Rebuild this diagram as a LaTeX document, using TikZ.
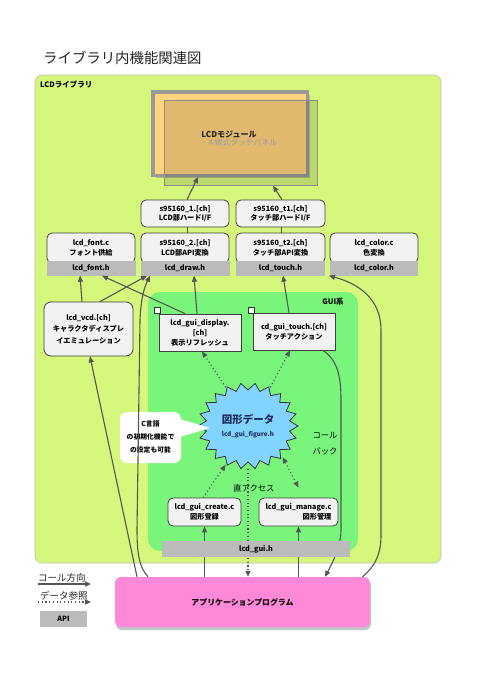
\documentclass[tikz,border=0pt]{standalone}
\usepackage{fontspec}
\setmainfont{Noto Sans CJK JP}
\usetikzlibrary{arrows.meta,shadows,shapes.geometric}
\definecolor{libgreen}{HTML}{D5F77C}
\definecolor{guigreen}{HTML}{78F57A}
\definecolor{boxfill}{HTML}{F2F2F2}
\definecolor{apigray}{HTML}{BBBBBB}
\definecolor{modorange}{HTML}{FFD27E}
\definecolor{figblue}{HTML}{80D4FF}
\definecolor{apppink}{HTML}{FF88D8}
\definecolor{linegray}{HTML}{555555}
\definecolor{navy}{HTML}{1C2B5A}
\begin{document}
\begin{tikzpicture}[x=1pt,y=-1pt,
  filebox/.style={draw=black!75, line width=0.8pt, fill=boxfill, rounded corners=5pt, align=center, inner sep=1pt, font=\bfseries\fontsize{7.2}{9.5}\selectfont},
  guibox/.style={draw=black!75, line width=0.8pt, fill=boxfill, align=center, inner sep=1pt, font=\bfseries\fontsize{7.2}{10}\selectfont},
  apibar/.style={fill=apigray, draw=none, align=center, inner sep=0pt, font=\bfseries\fontsize{7.2}{9}\selectfont},
  call/.style={draw=linegray, line width=1.1pt, -{Triangle[length=6pt,width=5pt]}},
  dataref/.style={draw=linegray, line width=1.1pt, dash pattern=on 1.1pt off 2.6pt, -{Triangle[length=6pt,width=5pt]}},
  plainline/.style={draw=linegray, line width=0.9pt},
  tinysq/.style={draw=black!80, fill=white, minimum size=6, inner sep=0pt, line width=0.7pt}
]
\useasboundingbox (0,0) rectangle (478,677);
\fill[white] (0,0) rectangle (478,677);

% title
\node[anchor=west, font=\fontsize{14.4}{16}\selectfont, text=black!85, inner sep=0pt] (title) at (43,58) {ライブラリ内機能関連図};

% LCD library area
\node[draw=black!25, line width=0.6pt, fill=libgreen, rounded corners=7pt, minimum width=406, minimum height=488] (lib) at (238,319) {};
\node[anchor=west, font=\bfseries\fontsize{7.5}{9}\selectfont, inner sep=0pt] (libl) at (40,84) {LCDライブラリ};

% LCD module
\node[draw=black!40, line width=3.5pt, fill=modorange, minimum width=154.5, minimum height=83.5,
      drop shadow={shadow xshift=3pt, shadow yshift=-3pt, opacity=0.45}] (lcd) at (230,133.5) {};
\node[draw=black!45, line width=0.5pt, fill=black, fill opacity=0.12, minimum width=153, minimum height=85.5] (lcdb) at (240.5,142.75) {};
\node[font=\bfseries\fontsize{8}{9}\selectfont, text=black!85, inner sep=0pt] (lcdt) at (229,134) {LCDモジュール};
\node[font=\fontsize{7.8}{9}\selectfont, text=black!38, inner sep=0pt] (tpt) at (242,143) {４線式タッチパネル};

% driver boxes
\node[filebox, minimum width=88, minimum height=27] (s1) at (185,213.5) {s95160\_1.[ch]\\LCD部ハードI/F};
\node[filebox, minimum width=89, minimum height=27] (t1) at (280.5,213.5) {s95160\_t1.[ch]\\タッチ部ハードI/F};
\node[filebox, minimum width=88, minimum height=30] (font) at (91,248) {lcd\_font.c\\フォント供給};
\node[filebox, minimum width=88, minimum height=30] (s2) at (185,248) {s95160\_2.[ch]\\LCD部API変換};
\node[filebox, minimum width=89, minimum height=30] (t2) at (280.5,248) {s95160\_t2.[ch]\\タッチ部API変換};
\node[filebox, minimum width=88, minimum height=30] (color) at (374,248) {lcd\_color.c\\色変換};
\node[apibar, minimum width=89, minimum height=15] (fonth) at (91,268) {lcd\_font.h};
\node[apibar, minimum width=89, minimum height=15] (drawh) at (185,268) {lcd\_draw.h};
\node[apibar, minimum width=89, minimum height=15] (touchh) at (280.5,268) {lcd\_touch.h};
\node[apibar, minimum width=88, minimum height=15] (colorh) at (374,268) {lcd\_color.h};

% GUI area
\node[fill=guigreen, rounded corners=12pt, minimum width=210, minimum height=259] (gui) at (253,421.5) {};
\node[font=\bfseries\fontsize{7.5}{9}\selectfont, inner sep=0pt] (guil) at (333,302) {GUI系};

\node[filebox, rounded corners=7pt, minimum width=89, minimum height=54, font=\bfseries\fontsize{7.2}{11.5}\selectfont] (vcd) at (88.5,329) {lcd\_vcd.[ch]\\キャラクタディスプレ\\イエミュレーション};
\node[guibox, minimum width=82, minimum height=37] (disp) at (200,332.5) {lcd\_gui\_display.\\{}[ch]\\表示リフレッシュ};
\node[guibox, minimum width=82, minimum height=37] (gtouch) at (294,331.5) {cd\_gui\_touch.[ch]\\タッチアクション};
\node[tinysq] (sq1) at (157,310) {};
\node[tinysq] (sq2) at (251,310) {};

% figure data starburst
\draw[draw=black!80, line width=0.8pt, fill=figblue] (298,426)
  \foreach \i in {0,...,21} { -- ({248+50*cos(\i*360/22)},{426+43*sin(\i*360/22)}) -- ({248+42*cos((\i+0.5)*360/22)},{426+36*sin((\i+0.5)*360/22)}) } -- cycle;
\node[ellipse, minimum width=100, minimum height=86, inner sep=0pt, align=center, text=navy] (fig) at (248,426)
  {{\bfseries\fontsize{10.5}{12}\selectfont 図形データ}\\[1pt]{\bfseries\fontsize{6.3}{8}\selectfont lcd\_gui\_figure.h}};

% callout
\node[fill=white, rounded corners=7pt, minimum width=61, minimum height=51, align=center, inner sep=0pt,
      font=\bfseries\fontsize{6.8}{13}\selectfont] (note) at (150.5,437.5) {C言語\\の初期化機能で\\の設定も可能};
\fill[white] ([xshift=-3,yshift=19]note.east) -- (210,428) -- ([xshift=-3,yshift=0]note.east) -- cycle;

\node[font=\fontsize{8.3}{10}\selectfont, inner sep=0pt] (cb1) at (325,435) {コール};
\node[font=\fontsize{8.3}{10}\selectfont, inner sep=0pt] (cb2) at (325,451) {バック};
\node[font=\fontsize{8.3}{10}\selectfont, inner sep=0pt] (direct) at (254,488) {直アクセス};

\node[filebox, minimum width=73, minimum height=28] (create) at (204.5,512) {lcd\_gui\_create.c\\図形登録};
\node[filebox, minimum width=79, minimum height=28, align=right] (manage) at (298.5,512) {lcd\_gui\_manage.c\\図形管理};

% application
\node[fill=apppink, rounded corners=6pt, minimum width=255, minimum height=50,
      drop shadow={shadow xshift=1pt, shadow yshift=-3pt, opacity=0.45},
      font=\bfseries\fontsize{7.9}{9}\selectfont] (app) at (242.5,602) {アプリケーションプログラム};

% connectors
\draw[call] ([xshift=2]s1.north) -- ([xshift=-32]lcd.south);
\draw[call] ([xshift=1.5]t1.north) -- ([xshift=32.5]lcdb.south);
\draw[plainline] ([xshift=2]s1.south) -- ([xshift=2]s2.north);
\draw[plainline] ([xshift=1]t1.south) -- ([xshift=1]t2.north);
\draw[call] ([xshift=-6.5]vcd.north) -- ([xshift=-11]fonth.south);
\draw[call] ([xshift=11.5]vcd.north) -- ([xshift=-38]drawh.south);
\draw[call] ([xshift=-15]disp.north) -- ([xshift=11]fonth.south);
\draw[call] ([xshift=-3]disp.north) -- ([xshift=9]drawh.south);
\draw[call] ([xshift=-5]gtouch.north) -- ([xshift=2.5]touchh.south);
\draw[call] ([xshift=-94.5]app.north) .. controls (140,568) and (137,556) .. (137,530) -- (140,320) .. controls (141,296) and (145,286) .. ([xshift=-35]drawh.south);
\draw[call] ([xshift=-105.5]app.north) -- ([xshift=1.5]vcd.south);
\draw[call] (app.north -| create.south) -- (create.south);
\draw[call] (app.north -| manage.south) -- (manage.south);
\draw[call] ([xshift=29]gtouch.south) .. controls (337,360) and (341,375) .. (341,400) -- (341,530) .. controls (341,546) and (333,562) .. ([xshift=82.5]app.north);
\draw[call] ([xshift=120]app.north) .. controls (375,566) and (381,555) .. (381,535) -- (381,330) .. controls (381,300) and (360,284) .. ([xshift=-45]colorh.south);
\draw[dataref] (fig.south) -- (fig.south |- app.north);
\draw[dataref] (fig.120) -- ([xshift=2]disp.south);
\draw[dataref] (fig.60) -- ([xshift=-4]gtouch.south);
\draw[dataref] ([xshift=-1.5]create.north) -- (fig.240);
\draw[dataref, {Triangle[length=6pt,width=5pt]}-{Triangle[length=6pt,width=5pt]}] (fig.318) -- ([yshift=10]manage.north);

% lcd_gui.h bar on top
\node[apibar, minimum width=188, minimum height=16] (guih) at (256,549) {lcd\_gui.h};

% legend
\node[anchor=west, font=\fontsize{9.5}{11}\selectfont, inner sep=0pt, text=black!85] (lg1) at (38,578) {コール方向};
\coordinate (lg1a) at (38,584);
\coordinate (lg1b) at (91,584);
\draw[call] (lg1a) -- (lg1b);
\node[anchor=west, font=\fontsize{9.5}{11}\selectfont, inner sep=0pt, text=black!85] (lg2) at (40,596) {データ参照};
\coordinate (lg2a) at (38,602);
\coordinate (lg2b) at (91,602);
\draw[dataref] (lg2a) -- (lg2b);
\node[apibar, minimum width=47, minimum height=16] (lgapi) at (63.5,619) {API};
\end{tikzpicture}
\end{document}
